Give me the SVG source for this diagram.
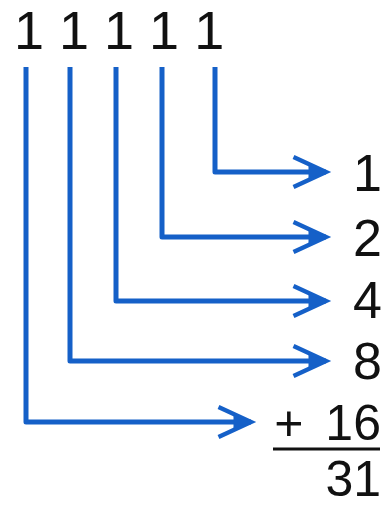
<svg xmlns="http://www.w3.org/2000/svg" width="385" height="507" viewBox="0 0 385 507">
<style>
.t{font-family:"Liberation Sans",Arial,sans-serif;fill:#111}
.c{fill:none;stroke:#1560c8;stroke-width:5;stroke-linejoin:round;stroke-linecap:butt}
</style>
<defs>
<marker id="ah" markerUnits="userSpaceOnUse" markerWidth="40" markerHeight="40" viewBox="-30 -15 32 30" refX="0" refY="0" orient="auto" overflow="visible">
<path d="M-26,-12 L0,0 L-26,12" fill="none" stroke="#1560c8" stroke-width="3.5" stroke-linejoin="miter"/>
<path d="M-14,-5 L2,0 L-14,5 Z" fill="#1560c8"/>
</marker>
</defs>
<rect width="385" height="507" fill="#fff"/>
<g id="bits">
<text class="t" x="14" y="49" font-size="54">1 1 1 1 1</text>
</g>
<g id="connectors">
<path class="c" d="M215,67 V172 H326" marker-end="url(#ah)"/>
<path class="c" d="M162,67 V237 H326" marker-end="url(#ah)"/>
<path class="c" d="M116,67 V301 H326" marker-end="url(#ah)"/>
<path class="c" d="M70,67 V361 H326" marker-end="url(#ah)"/>
<path class="c" d="M26,67 V422 H251" marker-end="url(#ah)"/>
</g>
<g id="v1"><text class="t" x="382" y="191" font-size="52" text-anchor="end">1</text></g>
<g id="v2"><text class="t" x="382" y="256" font-size="52" text-anchor="end">2</text></g>
<g id="v4"><text class="t" x="382" y="318" font-size="52" text-anchor="end">4</text></g>
<g id="v8"><text class="t" x="382" y="379" font-size="52" text-anchor="end">8</text></g>
<g id="v16"><text class="t" x="381" y="440" font-size="50" text-anchor="end" word-spacing="8">+ 16</text></g>
<g id="sum">
<line x1="273" y1="449" x2="380" y2="449" stroke="#111" stroke-width="3"/>
<text class="t" x="381" y="496" font-size="50" text-anchor="end">31</text>
</g>
</svg>
